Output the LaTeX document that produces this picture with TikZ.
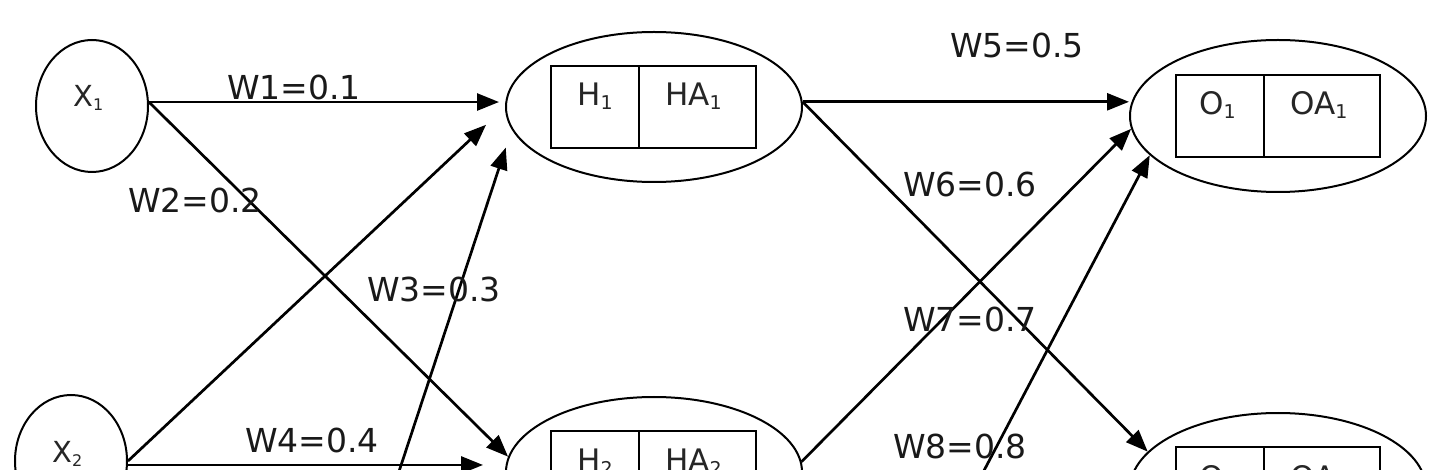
\documentclass[tikz,border=0pt]{standalone}
\usepackage{fontspec}
\setmainfont{DejaVu Sans}
\usetikzlibrary{arrows.meta,shapes.geometric}
\newcommand\mysub[2][19]{\raisebox{-4pt}{\fontsize{#1}{#1}\selectfont #2}}
\begin{document}
\begin{tikzpicture}[x=1pt,y=-1pt,
  neuron/.style={draw, ellipse, line width=2pt, inner sep=0pt},
  inputn/.style={neuron, minimum width=112pt, minimum height=132pt},
  bign/.style={neuron, minimum width=296pt, minimum height=150pt},
  cell/.style={draw, rectangle, line width=2.2pt, inner sep=0pt, minimum height=82pt},
  ntext/.style={font=\fontsize{31}{31}\selectfont, inner sep=0pt, anchor=base west, text=black!85},
  lbl/.style={font=\fontsize{33}{33}\selectfont, inner sep=0pt, anchor=base west, text=black!90},
  conn/.style={line width=2.7pt, -{Triangle[length=22pt,width=17pt]}}
]
\clip (0,0) rectangle (1452,470);
\fill[white] (0,0) rectangle (1452,470);

% input neurons
\node[inputn] (x1) at (92,106) {};
\node[inputn] (x2) at (71,461) {};
\node[ntext, font=\fontsize{29}{29}\selectfont] (tx1) at (73,107) {X\mysub[16]{1}};
\node[ntext, font=\fontsize{29}{29}\selectfont] (tx2) at (52,462) {X\mysub[16]{2}};

% hidden neurons
\node[bign] (h1) at (654,107) {};
\node[bign] (h2) at (654,472) {};
\node[cell, minimum width=88pt] (h1a) at (595,107) {};
\node[cell, minimum width=117pt] (h1b) at (697.5,107) {};
\node[cell, minimum width=88pt] (h2a) at (595,472) {};
\node[cell, minimum width=117pt] (h2b) at (697.5,472) {};
\node[ntext] (th1) at (577,106) {H\mysub{1}};
\node[ntext] (tha1) at (665,106) {HA\mysub{1}};
\node[ntext] (th2) at (577,471) {H\mysub{2}};
\node[ntext] (tha2) at (665,471) {HA\mysub{2}};

% output neurons
\node[neuron, minimum width=296pt, minimum height=152pt] (o1) at (1278,116) {};
\node[neuron, minimum width=296pt, minimum height=152pt] (o2) at (1278,489) {};
\node[cell, minimum width=88pt] (o1a) at (1220,116) {};
\node[cell, minimum width=116pt] (o1b) at (1322,116) {};
\node[cell, minimum width=88pt] (o2a) at (1220,488) {};
\node[cell, minimum width=116pt] (o2b) at (1322,488) {};
\node[ntext] (to1) at (1199,115) {O\mysub{1}};
\node[ntext] (toa1) at (1290,115) {OA\mysub{1}};
\node[ntext] (to2) at (1199,488) {O\mysub{2}};
\node[ntext] (toa2) at (1290,488) {OA\mysub{2}};

% off-picture sources
\coordinate (w3s) at (383,520);
\coordinate (w8s) at (958,520);

% connectors
\draw[conn, shorten >=6pt] (x1.4) -- (x1.4 -| h1.west);
\draw[conn] (x1.4) -- (h2.174);
\draw[conn, shorten >=26pt] (x2.east) -- (h1.west);
\draw[conn, shorten >=19pt] (w3s) -- (h1.189);
\draw[conn, shorten >=22pt] (x2.-4) -- (x2.-4 -| h2.west);
\draw[conn] (h1.2) -- (h1.2 -| o1.west);
\draw[conn] (h1.2) -- (o2.164);
\draw[conn] (h2.4) -- (o1.185);
\draw[conn] (w8s) -- (o1.197);

% weight labels
\node[lbl] (l1) at (227,100) {W1=0.1};
\node[lbl] (l2) at (128,213) {W2=0.2};
\node[lbl] (l3) at (367,302) {W3=0.3};
\node[lbl] (l4) at (245,452) {W4=0.4};
\node[lbl] (l5) at (950,58) {W5=0.5};
\node[lbl] (l6) at (903,197) {W6=0.6};
\node[lbl] (l7) at (903,332) {W7=0.7};
\node[lbl] (l8) at (893,458) {W8=0.8};
\end{tikzpicture}
\end{document}
